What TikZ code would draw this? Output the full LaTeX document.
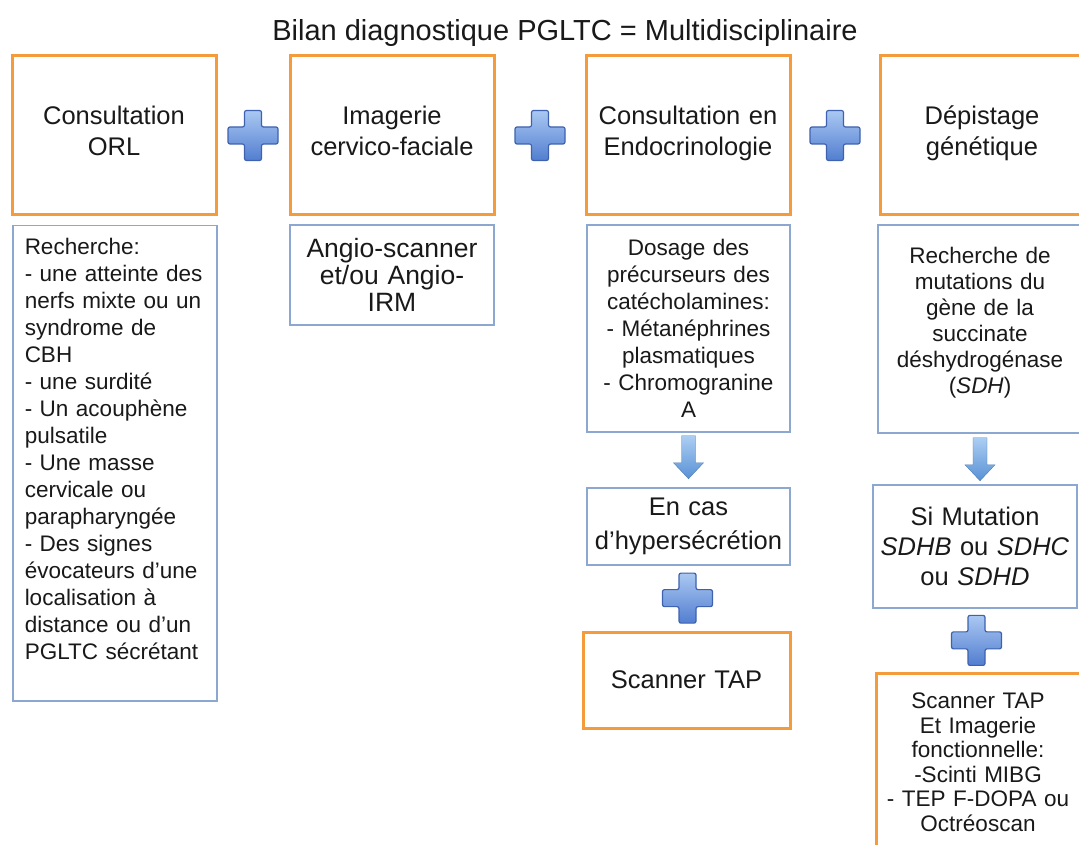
\documentclass[tikz,border=0pt]{standalone}
\usepackage{fontspec}
\setmainfont{Liberation Sans}
\usetikzlibrary{calc}
\definecolor{orangeb}{RGB}{244,155,60}
\definecolor{blueb}{RGB}{140,168,208}
\definecolor{plustop}{RGB}{170,200,242}
\definecolor{plusbot}{RGB}{82,126,208}
\definecolor{plusedge}{RGB}{62,98,175}
\definecolor{arrtop}{RGB}{172,206,242}
\definecolor{arrbot}{RGB}{88,145,214}
\definecolor{txt}{RGB}{25,25,25}
\begin{document}
\begin{tikzpicture}[x=1pt,y=-1pt,
  every node/.style={text=txt},
  titlestyle/.style={inner sep=0pt, font=\fontsize{29}{34}\selectfont},
  headbox/.style={draw=orangeb, line width=3pt, fill=white, minimum width=204pt, minimum height=159pt, text width=196pt, align=center, inner sep=0pt, font=\fontsize{25.5}{31}\selectfont},
  orangebox/.style={draw=orangeb, line width=3pt, fill=white, inner sep=0pt, align=center},
  infobox/.style={draw=blueb, line width=1.5pt, fill=white, inner sep=0pt, align=center, font=\fontsize{22.5}{27}\selectfont},
  plussign/.pic={\shade[top color=plustop, bottom color=plusbot, draw=plusedge, line width=1.2pt, rounded corners=2pt]
      (-8.5,-25) -- (8.5,-25) -- (8.5,-8.5) -- (25,-8.5) -- (25,8.5) -- (8.5,8.5) -- (8.5,25)
      -- (-8.5,25) -- (-8.5,8.5) -- (-25,8.5) -- (-25,-8.5) -- (-8.5,-8.5) -- cycle;},
  downarr/.pic={\shade[top color=arrtop, bottom color=arrbot, draw=arrbot!85!black, line width=0.4pt]
      (-7,0) -- (7,0) -- (7,27) -- (15,27) -- (0,43) -- (-15,27) -- (-7,27) -- cycle;}
]
\fill[white] (0,0) rectangle (1079,845);
\clip (0,0) rectangle (1079,845);

\node[titlestyle] (title) at (565,33) {Bilan diagnostique PGLTC = Multidisciplinaire};

% top row
\node[headbox] (T1) at (114,135.5) {Consultation\\ORL\\[-31pt]\strut};
\node[headbox] (T2) at (392,135.5) {Imagerie\\cervico-faciale\\[-31pt]\strut};
\node[headbox] (T3) at (688,135.5) {Consultation en\\Endocrinologie\\[-31pt]\strut};
\node[headbox] (T4) at (982,135.5) {Dépistage\\génétique\\[-31pt]\strut};

\path ($(T1.east)!0.5!(T2.west)$) pic {plussign};
\path ($(T2.east)!0.5!(T3.west)$) pic {plussign};
\path ($(T3.east)!0.5!(T4.west)$) pic {plussign};

% second row
\node[infobox, anchor=north west, minimum width=204pt, minimum height=475pt, text width=180pt, align=left] (L1) at (12,225)
  {Recherche:\\- une atteinte des\\nerfs mixte ou un\\syndrome de\\CBH\\- une surdité\\- Un acouphène\\pulsatile\\- Une masse\\cervicale ou\\parapharyngée\\- Des signes\\évocateurs d’une\\localisation à\\distance ou d’un\\PGLTC sécrétant\\[-7pt]\strut};
\node[infobox, minimum width=204pt, minimum height=100pt, text width=200pt, font=\fontsize{26.5}{27}\selectfont] (L2) at (392,275)
  {Angio-scanner\\et/ou Angio-\\IRM};
\node[infobox, minimum width=203pt, minimum height=207pt, text width=196pt] (L3) at (688.5,328.5)
  {Dosage des\\précurseurs des\\catécholamines:\\- Métanéphrines\\plasmatiques\\- Chromogranine\\A};
\node[infobox, minimum width=204pt, minimum height=208pt, text width=196pt, font=\fontsize{22.5}{26}\selectfont] (L4) at (980,329)
  {Recherche de\\mutations du\\gène de la\\succinate\\déshydrogénase\\(\textit{SDH})\\[-16pt]\strut};

% column 3 continuation
\node[infobox, minimum width=203pt, minimum height=77pt, text width=196pt, font=\fontsize{25.5}{34}\selectfont] (E) at (688.5,526.5)
  {En cas\\d’hypersécrétion};
\node[orangebox, minimum width=207pt, minimum height=96pt, text width=200pt, font=\fontsize{25.5}{31}\selectfont] (S) at (686.5,680)
  {Scanner TAP};
\path (L3.south) ++(0,3) pic {downarr};
\path ($(E.south)!0.5!(S.north)$) pic {plussign};

% column 4 continuation
\node[infobox, minimum width=204pt, minimum height=123pt, text width=196pt, font=\fontsize{25.5}{30}\selectfont] (M) at (975,546.5)
  {Si Mutation\\\textit{SDHB} ou \textit{SDHC}\\ou \textit{SDHD}};
\node[orangebox, anchor=north, minimum width=204pt, minimum height=177pt, text width=196pt, font=\fontsize{22.5}{24.5}\selectfont] (B) at (978,672)
  {Scanner TAP\\Et Imagerie\\fonctionnelle:\\-Scinti MIBG\\- TEP F-DOPA ou\\Octréoscan};
\path (L4.south) ++(0,4) pic {downarr};
\path ($(M.south)!0.5!(B.north)$) pic {plussign};
\end{tikzpicture}
\end{document}
